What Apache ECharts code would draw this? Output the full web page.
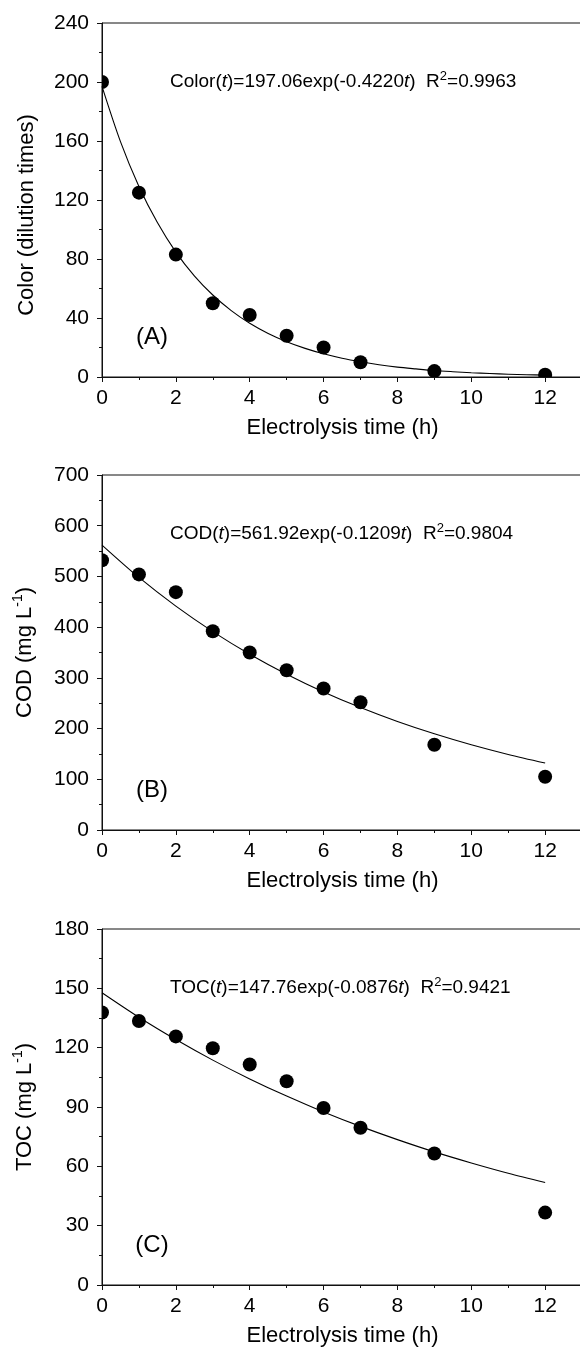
<!DOCTYPE html>
<html>
<head>
<meta charset="utf-8">
<script src="https://cdn.jsdelivr.net/npm/echarts@6/dist/echarts.min.js"></script>
<style>
html,body{margin:0;padding:0;background:#fff;}
#chart{width:580px;height:1347px;}
</style>
</head>
<body>
<div id="chart"></div>
<script>
// ---- data ----
const tHours = [0, 1, 2, 3, 4, 5, 6, 7, 9, 12];
const colorValues = [200, 125, 83, 50, 42, 28, 20, 10, 4, 1.5];
const codValues = [532, 504, 469, 392, 350, 315, 279, 252, 168, 105];
const tocValues = [137.8, 133.5, 125.7, 119.7, 111.5, 103, 89.5, 79.5, 66.5, 36.6];

// fitted curves as drawn in the figure
const colorFitT = [0, 0.5, 1, 1.5, 2, 2.5, 3, 3.5, 4, 4.5, 5, 5.5, 6, 6.5, 7, 7.5, 8, 8.5, 9, 9.5, 10, 10.5, 11, 11.5, 12];
const colorFit = [197.06, 159.6, 129.2, 104.7, 84.7, 68.6, 55.6, 45.0, 36.4, 29.5, 23.9, 19.4, 15.7, 12.7, 10.3, 8.3, 6.7, 5.5, 4.4, 3.6, 2.9, 2.35, 1.9, 1.54, 1.25];
const fitT = [0, 1, 2, 3, 4, 5, 6, 7, 8, 9, 10, 11, 12];
const codFit = [561.9, 498.0, 441.4, 391.2, 346.7, 307.3, 272.3, 241.4, 213.9, 189.6, 168.0, 148.9, 132.0];
const tocFit = [147.8, 135.4, 124.1, 113.7, 104.2, 95.5, 87.5, 80.2, 73.5, 67.3, 61.7, 56.5, 51.8];

// axis definitions
const yMax = [240, 700, 180];
const yInterval = [40, 100, 30];
const yNames = ['Color (dilution times)', '{n|COD (mg L}{s|-1}{n|)}', '{n|TOC (mg L}{s|-1}{n|)}'];
const xName = 'Electrolysis time (h)';
const panelLabels = ['(A)', '(B)', '(C)'];
const equations = [
  '{n|Color(}{i|t}{n|)=197.06exp(-0.4220}{i|t}{n|)  R}{s|2}{n|=0.9963}',
  '{n|COD(}{i|t}{n|)=561.92exp(-0.1209}{i|t}{n|)  R}{s|2}{n|=0.9804}',
  '{n|TOC(}{i|t}{n|)=147.76exp(-0.0876}{i|t}{n|)  R}{s|2}{n|=0.9421}'
];

// ---- layout / style ----
const FONT = "'Liberation Sans', Arial, Helvetica, sans-serif";
const INK = '#111';
const gridTops = [23, 475, 929];
const gridHeights = [354, 355, 356];
const GRID_LEFT = 102;
const GRID_WIDTH = 517; // x axis runs 0..14; 13 sits at the right picture edge

const pts = [colorValues, codValues, tocValues].map(v => tHours.map((t, j) => [t, v[j]]));
const fits = [
  colorFitT.map((t, j) => [t, colorFit[j]]),
  fitT.map((t, j) => [t, codFit[j]]),
  fitT.map((t, j) => [t, tocFit[j]])
];

const richName = {
  n: {fontSize: 22, fontFamily: FONT, color: '#000', lineHeight: 27},
  s: {fontSize: 14, fontFamily: FONT, color: '#000', lineHeight: 14, verticalAlign: 'top'}
};
const richEq = {
  n: {fontSize: 19, fontFamily: FONT, fill: '#000', lineHeight: 24},
  i: {fontSize: 19, fontFamily: FONT, fontStyle: 'italic', fill: '#000', lineHeight: 24},
  s: {fontSize: 13, fontFamily: FONT, fill: '#000', lineHeight: 13, verticalAlign: 'top'}
};

const grid = [], xAxis = [], yAxis = [], series = [], graphic = [];
for (let i = 0; i < 3; i++) {
  grid.push({left: GRID_LEFT, top: gridTops[i], width: GRID_WIDTH, height: gridHeights[i],
    outerBoundsMode: 'none', containLabel: false,
    show: true, borderColor: INK, borderWidth: 1, backgroundColor: 'transparent'});
  xAxis.push({
    type: 'value', gridIndex: i, min: 0, max: 14, interval: 2,
    axisLine: {show: true, lineStyle: {color: INK, width: 1}},
    axisTick: {show: true, inside: false, length: 5, lineStyle: {color: INK, width: 1}},
    minorTick: {show: true, splitNumber: 2, length: 3, lineStyle: {color: INK, width: 1}},
    splitLine: {show: false}, minorSplitLine: {show: false},
    axisLabel: {color: '#000', fontSize: 21, fontFamily: FONT, margin: 11},
    name: xName, nameLocation: 'middle', nameGap: 40,
    nameTextStyle: {color: '#000', fontSize: 22, fontFamily: FONT, padding: [0, 36, 0, 0]}
  });
  yAxis.push({
    type: 'value', gridIndex: i, min: 0, max: yMax[i], interval: yInterval[i],
    axisLine: {show: true, lineStyle: {color: INK, width: 1}},
    axisTick: {show: true, inside: false, length: 5, lineStyle: {color: INK, width: 1}},
    minorTick: {show: true, splitNumber: 2, length: 3, lineStyle: {color: INK, width: 1}},
    splitLine: {show: false}, minorSplitLine: {show: false},
    axisLabel: {color: '#000', fontSize: 21, fontFamily: FONT, margin: 13},
    name: yNames[i], nameLocation: 'middle', nameGap: 64,
    nameTextStyle: {color: '#000', fontSize: 22, fontFamily: FONT, rich: richName,
      padding: i === 0 ? [0, 30, 0, 0] : 0}
  });
  series.push({
    type: 'line', xAxisIndex: i, yAxisIndex: i, data: fits[i], smooth: 0.3,
    showSymbol: false, symbol: 'none', clip: true, z: 2,
    lineStyle: {color: '#000', width: 1.1}, animation: false
  });
  series.push({
    type: 'custom', xAxisIndex: i, yAxisIndex: i, data: pts[i], clip: true, z: 3,
    renderItem: function (params, api) {
      const p = api.coord([api.value(0), api.value(1)]);
      return {type: 'circle', shape: {cx: p[0], cy: p[1], r: 7}, style: {fill: '#000'}};
    },
    animation: false
  });
  graphic.push({
    type: 'text', x: 170, y: gridTops[i] + 59, z: 10,
    style: {text: equations[i], rich: richEq, verticalAlign: 'middle', align: 'left',
      fontSize: 19, fontFamily: FONT, fill: '#000'}
  });
  graphic.push({
    type: 'text', x: 152, y: gridTops[i] + gridHeights[i] - 40, z: 10,
    style: {text: panelLabels[i], verticalAlign: 'middle', align: 'center',
      fontSize: 24, fontFamily: FONT, fill: '#000'}
  });
}

const chart = echarts.init(document.getElementById('chart'), null, {renderer: 'canvas'});
chart.setOption({
  animation: false,
  backgroundColor: '#fff',
  textStyle: {fontFamily: FONT},
  grid, xAxis, yAxis, series, graphic
});
</script>
</body>
</html>
